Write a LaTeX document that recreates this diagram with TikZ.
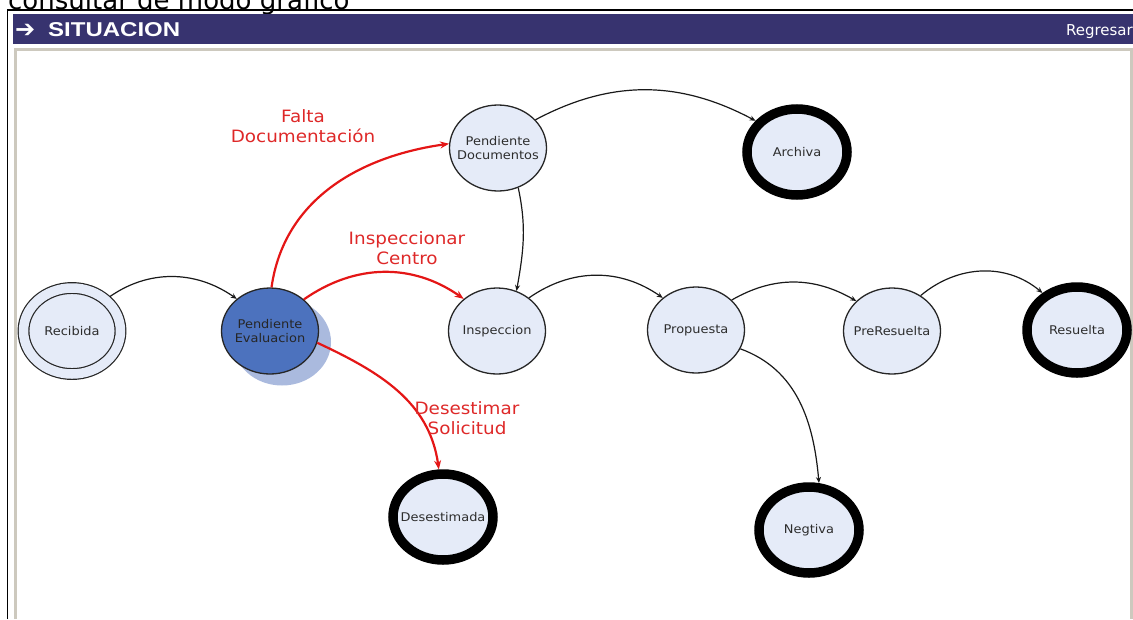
\documentclass[tikz,border=0pt]{standalone}
\usepackage{fontspec}
\setmainfont{DejaVu Sans}
\newfontfamily\hdrfont[FakeStretch=1.2]{Liberation Sans}
\newfontfamily\nodefont[FakeStretch=1.08]{DejaVu Sans}
\usetikzlibrary{shapes.geometric,arrows.meta}
\definecolor{barblue}{RGB}{55,51,111}
\definecolor{nodefill}{RGB}{229,235,248}
\definecolor{peblue}{RGB}{76,114,190}
\definecolor{peshadow}{RGB}{170,186,222}
\definecolor{panelgray}{RGB}{205,201,190}
\definecolor{lblred}{RGB}{222,40,40}
\definecolor{edgered}{RGB}{228,22,22}
\definecolor{txtgray}{RGB}{45,45,45}
\begin{document}
\begin{tikzpicture}[x=1pt,y=1pt,
 state/.style={ellipse, draw=black!85, line width=1.3pt, fill=nodefill, minimum width=97pt, minimum height=86pt, inner xsep=-25pt, inner ysep=-14pt, align=center, font=\nodefont\fontsize{12}{14}\selectfont, text=txtgray},
 final/.style={state, line width=9.5pt, draw=black, minimum width=100pt, minimum height=86pt},
 blk/.style={draw=black!90, line width=1.2pt, -{Stealth[length=6pt,width=5pt]}},
 redarr/.style={draw=edgered, line width=2.2pt, -{Stealth[length=9pt,width=7pt]}},
 redlbl/.style={text=lblred, align=center, font=\nodefont\fontsize{17}{20}\selectfont, inner sep=0pt},
]
\useasboundingbox (0,0) rectangle (1133,-619);
% cut title and outer frame
\node[anchor=base west, inner sep=0pt, font=\fontsize{26}{26}\selectfont, text=black] (title) at (8,-9.5) {consultar de modo gráfico};
\draw[line width=1.5pt] (7.5,-619) -- (7.5,-10) -- (1133,-10);
% header bar
\fill[barblue] (13,-14) rectangle (1133,-43.5);
\node[anchor=base west, text=white, font=\bfseries\fontsize{24}{24}\selectfont, inner sep=0pt] (harrow) at (15,-37) {➔};
\node[anchor=base west, text=white, font=\hdrfont\bfseries\fontsize{20}{20}\selectfont, inner sep=0pt] (sit) at (48,-36) {SITUACION};
\node[anchor=base east, text=white, font=\fontsize{15}{15}\selectfont, inner sep=0pt] (reg) at (1133,-35) {Regresar};
% panel
\draw[panelgray, line width=3pt] (15.5,-619) -- (15.5,-49.5) -- (1131.5,-49.5) -- (1131.5,-619);
% nodes
\node[state, double=nodefill, double distance=9.5pt, line width=1.2pt] (rec) at (72,-331) {Recibida};
\fill[peshadow] (282,-342) ellipse [x radius=49, y radius=43.5];
\node[state, fill=peblue, text=black!85] (pe) at (270,-331) {Pendiente\\Evaluacion};
\node[state] (pd) at (498,-148) {Pendiente\\Documentos};
\node[final] (arch) at (797,-152) {Archiva};
\node[state] (insp) at (497,-331) {Inspeccion};
\node[state] (prop) at (696,-330) {Propuesta};
\node[state] (prer) at (892,-331) {PreResuelta};
\node[final] (res) at (1077,-330) {Resuelta};
\node[final] (des) at (443,-517) {Desestimada};
\node[final] (neg) at (809,-530) {Negtiva};
% edges
\draw[blk, shorten <=5pt] (rec.43) to[out=35,in=145] (pe.136);
\draw[redarr] (pe.88) to[out=82,in=188] (pd.175);
\draw[redarr] (pe.43) to[out=35,in=145] (insp.136);
\draw[redarr] (pe.-14) to[out=-25,in=98] (des.95);
\draw[blk] (pd.37) to[out=28,in=152] (arch.143);
\draw[blk] (pd.-63) to[out=-78,in=80] (insp.64);
\draw[blk] (insp.46) to[out=35,in=145] (prop.136);
\draw[blk] (prop.40) to[out=30,in=150] (prer.140);
\draw[blk] (prer.51) to[out=40,in=140] (res.133);
\draw[blk] (prop.-23) to[out=-20,in=95] (neg.78);
% labels
\node[redlbl] (lfalta) at (303,-126) {Falta\\Documentación};
\node[redlbl] (linsp) at (407,-248) {Inspeccionar\\Centro};
\node[redlbl] (ldes) at (467,-418) {Desestimar\\Solicitud};
\end{tikzpicture}
\end{document}
